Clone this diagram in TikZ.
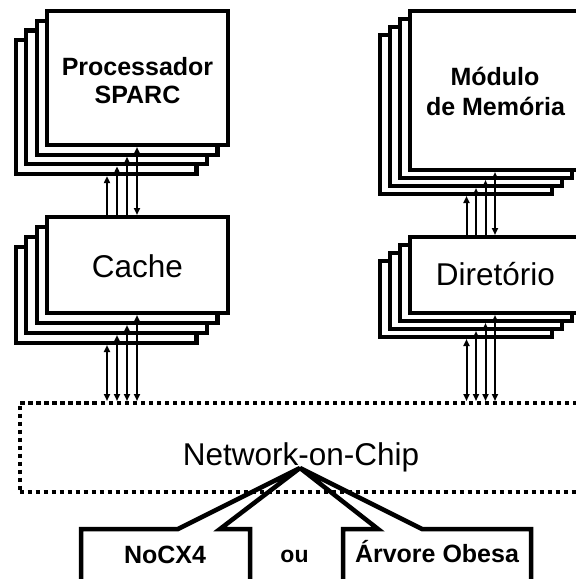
\documentclass[tikz,border=0pt]{standalone}
\usepackage{fontspec}
\setmainfont{Liberation Sans}
\usetikzlibrary{arrows.meta}

\tikzset{
  layer/.style={draw, fill=white, line width=4.2pt, rectangle, inner sep=0pt},
  bustip/.tip={Triangle[length=7pt,width=6pt]},
  busup/.style={line width=2pt, -bustip},
  busboth/.style={line width=2pt, bustip-bustip},
  nocbox/.style={draw, dash pattern=on 4.5pt off 3.5pt, line width=4pt, rectangle, inner sep=0pt},
  callout/.style={draw, line width=4.5pt, line join=miter},
  boldlbl/.style={font=\fontsize{25}{30}\selectfont\bfseries, anchor=base, inner sep=0pt},
  plainlbl/.style={font=\fontsize{31.5}{36}\selectfont, anchor=base, inner sep=0pt},
}

% A stack of four boxes: #1 name, #2/#3 centre of the front box,
% #4/#5 width and height, #6/#7 shift of each box behind it
\newcommand\layerstack[7]{%
  \foreach \k in {3,2,1}{%
    \node[layer, minimum width=#4pt, minimum height=#5pt] (#1\k) at ({#2-\k*#6},{#3+\k*#7}) {};
  }%
  \node[layer, minimum width=#4pt, minimum height=#5pt] (#1F) at (#2,#3) {};
}

\begin{document}
\begin{tikzpicture}[x=1pt, y=-1pt]
\path[use as bounding box] (0,0) rectangle (576,579);
\clip (0,0) rectangle (576,579);

% processor / cache side
\layerstack{proc}{137.5}{78}{180.8}{133.8}{10.5}{9.7}
\layerstack{cache}{137.5}{265}{180.8}{95.8}{10.5}{10}
% memory / directory side
\layerstack{mem}{496}{90.5}{171.8}{158.8}{10}{8}
\layerstack{dir}{496}{275}{171.8}{75.8}{10}{8}

% network-on-chip
\node[nocbox, minimum width=562.5pt, minimum height=88.5pt] (noc) at (300.75,447.25) {};

% bus lanes
\foreach \j/\xx in {0/107,1/117,2/127,3/137} \coordinate (pa\j) at (\xx,0);
\foreach \j/\xx in {0/466.5,1/476,2/485.5,3/495} \coordinate (pb\j) at (\xx,0);

\foreach \j/\b in {0/3,1/2,2/1} \draw[busup] (pa\j |- cacheF.north) -- (pa\j |- proc\b.south);
\draw[busboth] (pa3 |- procF.south) -- (pa3 |- cacheF.north);
\foreach \j/\b in {0/3,1/2,2/1,3/F} \draw[busboth] (pa\j |- cache\b.south) -- (pa\j |- noc.north);

\foreach \j/\b in {0/3,1/2,2/1} \draw[busup] (pb\j |- dirF.north) -- (pb\j |- mem\b.south);
\draw[busboth] (pb3 |- memF.south) -- (pb3 |- dirF.north);
\foreach \j/\b in {0/3,1/2,2/1,3/F} \draw[busboth] (pb\j |- dir\b.south) -- (pb\j |- noc.north);

% labels
\node[boldlbl] (proclbla) at (137.5,75) {Processador};
\node[boldlbl] (proclblb) at (137.5,103) {SPARC};
\node[plainlbl] (cachelbl) at (137.5,277) {Cache};
\node[boldlbl] (memlbla) at (495,85) {Módulo};
\node[boldlbl] (memlblb) at (495.5,115) {de Memória};
\node[plainlbl] (dirlbl) at (495.5,285) {Diretório};
\node[plainlbl] (noclbl) at (301,465.5) {Network-on-Chip};

% the two implementations, pointing at the network
\coordinate (apex) at (300,468);
\draw[callout] (250,600) -- (250,529) -- (220,529) -- (apex) -- (178,529) -- (81,529) -- (81,600);
\draw[callout] (343,600) -- (343,529) -- (378,529) -- (apex) -- (422,529) -- (531,529) -- (531,600);
\node[boldlbl] (nocx4) at (165,563) {NoCX4};
\node[boldlbl, font=\fontsize{23}{28}\selectfont\bfseries] (ou) at (294.5,562) {ou};
\node[boldlbl] (arvore) at (437,562) {Árvore Obesa};
\end{tikzpicture}
\end{document}
